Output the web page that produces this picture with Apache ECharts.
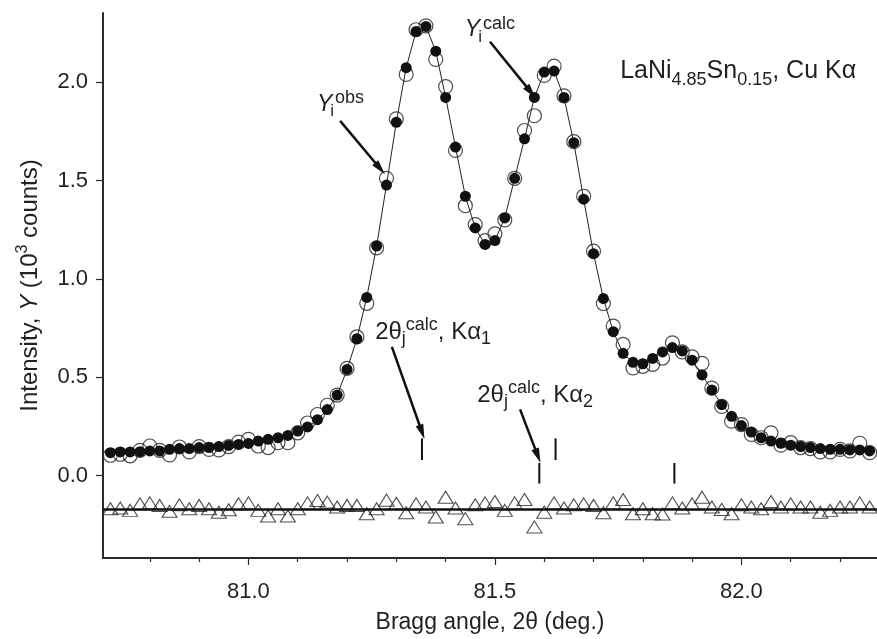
<!DOCTYPE html>
<html>
<head>
<meta charset="utf-8">
<script src="https://cdn.jsdelivr.net/npm/echarts@6/dist/echarts.min.js"></script>
<style>
  html, body { margin: 0; padding: 0; background: #fff; }
  #chart { width: 877px; height: 639px; }
</style>
</head>
<body>
<div id="chart"></div>
<script>
// ---------------- data ----------------
const theta = [80.72,80.74,80.76,80.78,80.80,80.82,80.84,80.86,80.88,80.90,80.92,80.94,80.96,80.98,81.00,81.02,81.04,81.06,81.08,81.10,
  81.12,81.14,81.16,81.18,81.20,81.22,81.24,81.26,81.28,81.30,81.32,81.34,81.36,81.38,81.40,81.42,81.44,81.46,81.48,81.50,
  81.52,81.54,81.56,81.58,81.60,81.62,81.64,81.66,81.68,81.70,81.72,81.74,81.76,81.78,81.80,81.82,81.84,81.86,81.88,81.90,
  81.92,81.94,81.96,81.98,82.00,82.02,82.04,82.06,82.08,82.10,82.12,82.14,82.16,82.18,82.20,82.22,82.24,82.26];

const yObs = [0.104,0.109,0.101,0.129,0.151,0.129,0.106,0.146,0.121,0.148,0.134,0.131,0.148,0.171,0.185,0.151,0.143,0.168,0.168,0.218,
  0.268,0.311,0.358,0.410,0.545,0.705,0.876,1.158,1.511,1.813,2.039,2.266,2.286,2.115,1.977,1.653,1.372,1.276,1.195,1.229,
  1.300,1.511,1.754,1.829,2.034,2.081,1.930,1.697,1.420,1.141,0.875,0.760,0.667,0.548,0.556,0.566,0.598,0.675,0.629,0.604,
  0.571,0.445,0.352,0.277,0.260,0.210,0.193,0.218,0.155,0.168,0.143,0.138,0.121,0.121,0.134,0.126,0.165,0.117];

const yCalc = [0.117,0.121,0.121,0.122,0.126,0.126,0.134,0.138,0.138,0.143,0.143,0.148,0.154,0.159,0.164,0.176,0.185,0.193,0.205,0.227,
  0.248,0.285,0.336,0.410,0.540,0.696,0.906,1.167,1.477,1.796,2.073,2.257,2.283,2.157,1.922,1.670,1.420,1.259,1.175,1.195,
  1.310,1.511,1.712,1.922,2.051,2.056,1.922,1.692,1.405,1.128,0.900,0.732,0.622,0.576,0.569,0.596,0.629,0.651,0.634,0.587,
  0.512,0.436,0.361,0.302,0.255,0.222,0.193,0.176,0.165,0.155,0.148,0.143,0.138,0.134,0.134,0.131,0.131,0.126];

const yDiff = [-0.168,-0.164,-0.176,-0.143,-0.138,-0.151,-0.181,-0.148,-0.168,-0.151,-0.168,-0.185,-0.173,-0.143,-0.138,-0.176,-0.205,-0.168,-0.205,-0.168,
  -0.138,-0.126,-0.134,-0.159,-0.151,-0.151,-0.193,-0.168,-0.124,-0.140,-0.188,-0.143,-0.159,-0.210,-0.109,-0.164,-0.218,-0.148,-0.138,-0.131,
  -0.176,-0.138,-0.121,-0.260,-0.185,-0.138,-0.164,-0.148,-0.143,-0.151,-0.188,-0.138,-0.121,-0.193,-0.168,-0.193,-0.195,-0.138,-0.164,-0.143,
  -0.109,-0.159,-0.171,-0.193,-0.148,-0.159,-0.168,-0.131,-0.159,-0.143,-0.159,-0.159,-0.185,-0.176,-0.159,-0.159,-0.138,-0.159];

const diffBaseline = -0.171;

// reflection positions (2θ calc) and the vertical extent of their markers
const reflKa1 = [81.352, 81.623];
const reflKa2 = [81.590, 81.864];
const ka1Extent = [0.080, 0.190];
const ka2Extent = [-0.040, 0.065];

// axis ticks
const xMajorTicks = [81.0, 81.5, 82.0];
const xMinorTicks = [80.8, 80.9, 81.1, 81.2, 81.3, 81.4, 81.6, 81.7, 81.8, 81.9, 82.1, 82.2];
const yTicks = [0.0, 0.5, 1.0, 1.5, 2.0];
const xRange = [80.705, 82.275];
const yRange = [-0.418, 2.351];

// annotation arrows: [start, tip] in data coordinates
const arrows = [
  [[81.186, 1.803], [81.267, 1.561]],
  [[81.490, 2.205], [81.573, 1.949]],
  [[81.291, 0.655], [81.352, 0.222]],
  [[81.551, 0.337], [81.587, 0.101]]
];

// ---------------- chart ----------------
const FONT = '"Liberation Sans", Arial, Helvetica, sans-serif';
const TXT = '#231f20';
const INK = '#111';

const chart = echarts.init(document.getElementById('chart'), null, { renderer: 'canvas' });

const obsData = theta.map((x, i) => [x, yObs[i]]);
const calcData = theta.map((x, i) => [x, yCalc[i]]);
const diffData = theta.map((x, i) => [x, yDiff[i]]);
const reflData = reflKa1.map(x => [x, ka1Extent[0], ka1Extent[1]])
  .concat(reflKa2.map(x => [x, ka2Extent[0], ka2Extent[1]]));

const option = {
  animation: false,
  backgroundColor: '#fff',
  grid: { left: 103, right: 0, top: 13, bottom: 76, containLabel: false },
  xAxis: [
    {
      type: 'value', min: xRange[0], max: xRange[1],
      name: 'Bragg angle, 2θ (deg.)', nameLocation: 'middle', nameGap: 53,
      nameTextStyle: { fontFamily: FONT, fontSize: 23, color: TXT },
      axisLine: { show: true, onZero: false, lineStyle: { color: '#2a2a2a', width: 2 } },
      axisTick: { show: true, inside: false, length: 7, customValues: xMajorTicks, lineStyle: { color: '#2a2a2a', width: 1.2 } },
      axisLabel: { show: true, customValues: xMajorTicks, margin: 23, fontFamily: FONT, fontSize: 22, color: TXT,
        formatter: v => Number(v).toFixed(1) },
      splitLine: { show: false }
    },
    {
      type: 'value', min: xRange[0], max: xRange[1], position: 'bottom', gridIndex: 0,
      axisLine: { show: false, onZero: false },
      axisTick: { show: true, inside: false, length: 4, customValues: xMinorTicks, lineStyle: { color: '#2a2a2a', width: 1.2 } },
      axisLabel: { show: false },
      splitLine: { show: false }
    }
  ],
  yAxis: {
    type: 'value', min: yRange[0], max: yRange[1],
    name: '{a|Intensity, }{b|Y}{a| (10}{c|3}{a| counts)}',
    nameLocation: 'middle', nameGap: 58, nameRotate: 90,
    nameTextStyle: {
      color: TXT, fontFamily: FONT, fontSize: 24,
      rich: {
        a: { fontFamily: FONT, fontSize: 24, color: TXT, lineHeight: 30 },
        b: { fontFamily: FONT, fontSize: 24, fontStyle: 'italic', color: TXT, lineHeight: 30 },
        c: { fontFamily: FONT, fontSize: 16, color: TXT, lineHeight: 18, verticalAlign: 'top' }
      }
    },
    axisLine: { show: true, onZero: false, lineStyle: { color: '#2a2a2a', width: 2 } },
    axisTick: { show: true, inside: false, length: 7, customValues: yTicks, lineStyle: { color: '#2a2a2a', width: 1.2 } },
    axisLabel: { show: true, customValues: yTicks, margin: 15, fontFamily: FONT, fontSize: 22, color: TXT,
      formatter: v => Number(v).toFixed(1) },
    splitLine: { show: false }
  },
  series: [
    {
      name: 'diff', type: 'scatter', data: diffData, z: 3,
      symbol: 'triangle', symbolSize: [15, 12],
      itemStyle: { color: 'rgba(255,255,255,0)', borderColor: '#222', borderWidth: 1.1 },
      markLine: {
        silent: true, symbol: ['none', 'none'], label: { show: false },
        lineStyle: { color: INK, width: 2.5, type: 'solid' },
        data: [{ yAxis: diffBaseline }]
      }
    },
    {
      name: 'obs', type: 'scatter', data: obsData, z: 3,
      symbol: 'circle', symbolSize: 14,
      itemStyle: { color: 'rgba(255,255,255,0)', borderColor: '#222', borderWidth: 1.2 }
    },
    {
      name: 'calc', type: 'line', data: calcData, z: 4,
      symbol: 'circle', symbolSize: 11, showSymbol: true, showAllSymbol: true,
      itemStyle: { color: INK, borderWidth: 0 },
      lineStyle: { color: '#222', width: 1 }
    },
    {
      name: 'refl', type: 'custom', data: reflData, z: 5,
      encode: { x: 0, y: [1, 2] },
      renderItem: function (params, api) {
        const p1 = api.coord([api.value(0), api.value(1)]);
        const p2 = api.coord([api.value(0), api.value(2)]);
        return { type: 'line', shape: { x1: p1[0], y1: p1[1], x2: p2[0], y2: p2[1] },
          style: { stroke: INK, lineWidth: 2 } };
      }
    },
    {
      name: 'arrows', type: 'line', data: [], z: 6,
      markLine: {
        silent: true, symbol: ['none', 'triangle'], symbolSize: [8, 15], label: { show: false },
        lineStyle: { color: INK, width: 2.5, type: 'solid' },
        data: arrows.map(a => [{ coord: a[0] }, { coord: a[1] }])
      }
    }
  ]
};
chart.setOption(option);

// ---------------- text annotations (anchored in data coordinates) ----------------
const annotations = [
  { at: [81.139, 1.848], pieces: [
    { t: 'Y', s: 23, it: true }, { t: 'i', s: 17, dy: 5, dx: -2 }, { t: 'obs', s: 18, dy: -8, dx: 1 } ] },
  { at: [81.439, 2.226], pieces: [
    { t: 'Y', s: 23, it: true }, { t: 'i', s: 17, dy: 5, dx: -2 }, { t: 'calc', s: 18, dy: -8, dx: 1 } ] },
  { at: [81.754, 2.014], pieces: [
    { t: 'LaNi', s: 25 }, { t: '4.85', s: 18, dy: 7 }, { t: 'Sn', s: 25 }, { t: '0.15', s: 18, dy: 7 },
    { t: ', Cu Kα', s: 25 } ] },
  { at: [81.257, 0.690], pieces: [
    { t: '2θ', s: 24 }, { t: 'j', s: 18, dy: 5 }, { t: 'calc', s: 18, dy: -9, dx: 0 }, { t: ', Kα', s: 24 },
    { t: '1', s: 18, dy: 5 } ] },
  { at: [81.464, 0.368], pieces: [
    { t: '2θ', s: 24 }, { t: 'j', s: 18, dy: 5 }, { t: 'calc', s: 18, dy: -9, dx: 0 }, { t: ', Kα', s: 24 },
    { t: '2', s: 18, dy: 5 } ] }
];

const mctx = document.createElement('canvas').getContext('2d');
const graphics = [];
annotations.forEach(a => {
  const p = chart.convertToPixel({ gridIndex: 0 }, a.at);
  let x = p[0];
  a.pieces.forEach(pc => {
    const style = pc.it ? 'italic' : 'normal';
    mctx.font = style + ' ' + pc.s + 'px ' + FONT;
    const w = mctx.measureText(pc.t).width;
    x += (pc.dx || 0);
    graphics.push({
      type: 'text', x: x, y: p[1] + (pc.dy || 0) - 0.33 * pc.s, silent: true, z: 10,
      style: { text: pc.t, fontSize: pc.s, fontFamily: FONT, fontStyle: style, fill: TXT,
        align: 'left', verticalAlign: 'middle' }
    });
    x += w;
  });
});
chart.setOption({ graphic: graphics });
</script>
</body>
</html>
